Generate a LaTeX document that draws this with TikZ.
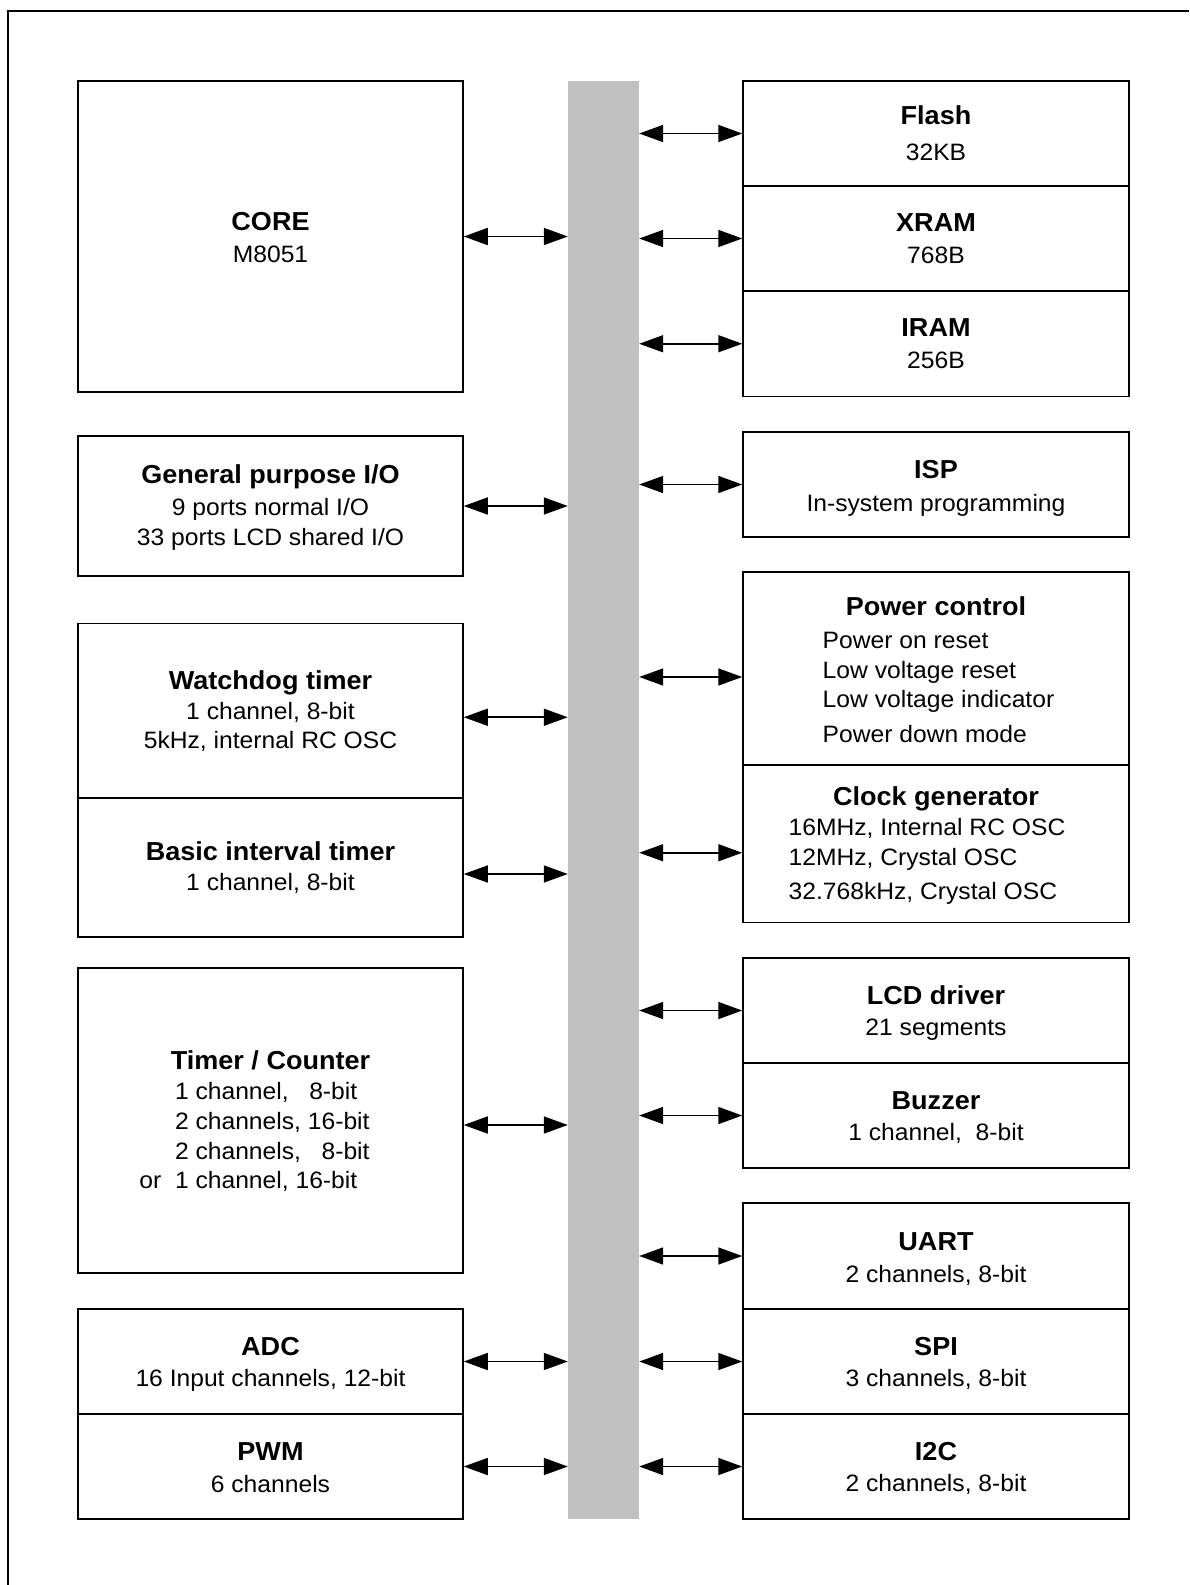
\documentclass[tikz,border=0pt]{standalone}
\usepackage{fontspec}
\setmainfont{Liberation Sans}[FakeStretch=1.04]
\usetikzlibrary{arrows.meta, positioning}
\definecolor{busgray}{HTML}{C0C0C0}
% optional argument: strut height of the title line
\newcommand{\blocktitle}[2][22pt]{{\fontsize{26}{30}\selectfont\bfseries\rule{0pt}{#1}#2}}
\tikzset{
	block/.style={draw, line width=1.5pt, rectangle, align=center, inner sep=0pt,
		font=\fontsize{23.7}{29.7}\selectfont},
	lcol/.style={block, minimum width=385pt},
	rcol/.style={block, minimum width=386pt},
	link/.style={{Triangle[length=24pt,width=17pt]}-{Triangle[length=24pt,width=17pt]}, line width=1.6pt},
}

\begin{document}
\begin{tikzpicture}[x=1pt, y=-1pt]
				\useasboundingbox (0,0) rectangle (1189,1585);
				\draw[line width=1.5pt] (8,1585) -- (8,11) -- (1189,11);
				% Bus
				\node[fill=busgray, minimum width=71pt, minimum height=1438pt, inner sep=0pt] (bus) at (603.5,800) {};
				% Left column
				\node[lcol, minimum height=311pt] (core) at (270.5,236.5) {\blocktitle[20pt]{CORE}\\[2pt] M8051};
				\node[lcol, minimum height=140pt] (gpio) at (270.5,506) {\blocktitle{General purpose I/O}\\[2pt] 9 ports normal I/O\\ 33 ports LCD shared I/O};
				\node[lcol, minimum height=174.5pt] (wdt) at (270.5,710.75) {\blocktitle[20pt]{Watchdog timer}\\ 1 channel, 8-bit\\ 5kHz, internal RC OSC};
				\node[lcol, minimum height=139pt] (bit) at (270.5,867.5) {\blocktitle[0pt]{Basic interval timer}\\ 1 channel, 8-bit};
				\node[lcol, minimum height=305pt] (tc) at (270.5,1120.5) {\blocktitle[26pt]{Timer / Counter}\\[1pt]
					\begin{tabular}[t]{@{}r@{\ \ }l@{}}
						& 1 channel,\ \ \ 8-bit\\
						& 2 channels, 16-bit\\
						& 2 channels,\ \ \ 8-bit\\
						or & 1 channel, 16-bit
					\end{tabular}\hspace*{32pt}\mbox{}};
				\node[lcol, minimum height=105pt] (adc) at (270.5,1361.5) {\blocktitle[24pt]{ADC}\\[2pt] 16 Input channels, 12-bit};
				\node[lcol, minimum height=105pt] (pwm) at (270.5,1466.5) {\blocktitle[20pt]{PWM}\\[2pt] 6 channels};
				% Right column
				\node[rcol, minimum height=105pt] (flash) at (936,133.5) {\blocktitle[0pt]{Flash}\\[6pt] 32KB};
				\node[rcol, minimum height=105pt] (xram) at (936,238.5) {\blocktitle[0pt]{XRAM}\\[2pt] 768B};
				\node[rcol, minimum height=105.5pt] (iram) at (936,343.75) {\blocktitle[0pt]{IRAM}\\[2pt] 256B};
				\node[rcol, minimum height=105pt] (isp) at (936,484.5) {\blocktitle[26pt]{ISP}\\[3pt] In-system programming};
				\node[rcol, minimum height=193pt] (pwr) at (936,668.5) {\blocktitle[30pt]{Power control}\\[3pt]
					\hspace*{5pt}\begin{tabular}[t]{@{}l@{}}
						Power on reset\\
						Low voltage reset\\
						Low voltage indicator\\[5pt]
						Power down mode
					\end{tabular}};
				\node[rcol, minimum height=157.5pt] (clk) at (936,843.75) {\blocktitle[26pt]{Clock generator}\\[1pt]
					\begin{tabular}[t]{@{}l@{}}
						16MHz, Internal RC OSC\\
						12MHz, Crystal OSC\\[4pt]
						32.768kHz, Crystal OSC
					\end{tabular}\hspace*{18pt}\mbox{}};
				\node[rcol, minimum height=105pt] (lcd) at (936,1010.5) {\blocktitle[24pt]{LCD driver}\\[2pt] 21 segments};
				\node[rcol, minimum height=105pt] (buz) at (936,1115.5) {\blocktitle{Buzzer}\\[2pt] 1 channel,\ \ 8-bit};
				\node[rcol, minimum height=106pt] (uart) at (936,1256) {\blocktitle[24pt]{UART}\\[2pt] 2 channels, 8-bit};
				\node[rcol, minimum height=105pt] (spi) at (936,1361.5) {\blocktitle{SPI}\\[2pt] 3 channels, 8-bit};
				\node[rcol, minimum height=105pt] (i2c) at (936,1466.5) {\blocktitle{I2C}\\[2pt] 2 channels, 8-bit};
				% Links to the bus
				\foreach \blk/\dy in {core/0, gpio/0, wdt/6.5, bit/6.5, tc/4.5, adc/0, pwm/0}
					\draw[link] ([yshift=-\dy pt]\blk.east) -- ([yshift=-\dy pt]\blk.east -| bus.west);
				\foreach \blk/\dy in {flash/0, xram/0, iram/0, isp/0, pwr/8.5, clk/9, lcd/0, buz/0, uart/0, spi/0, i2c/0}
					\draw[link] ([yshift=-\dy pt]\blk.west -| bus.east) -- ([yshift=-\dy pt]\blk.west);
			\end{tikzpicture}
\end{document}
